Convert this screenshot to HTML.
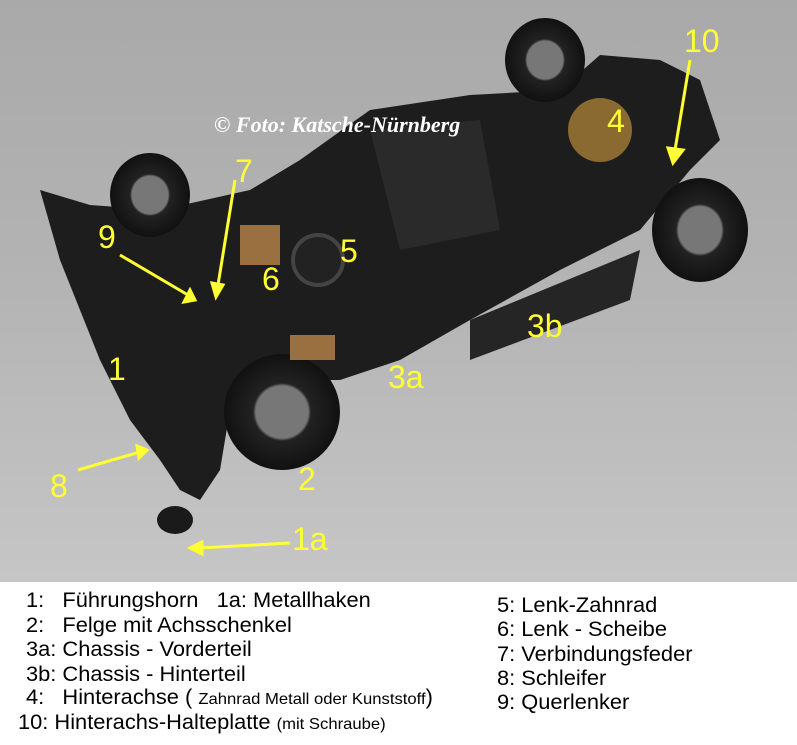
<!DOCTYPE html>
<html><head><meta charset="utf-8"><style>
body{margin:0;width:797px;height:745px;overflow:hidden;background:#fff;font-family:"Liberation Sans",sans-serif}
.ph{position:absolute;left:0;top:0;width:797px;height:582px;background:linear-gradient(180deg,#a9a9a9 0%,#b4b4b4 50%,#c6c6c6 100%)}
.t{position:absolute;font-size:21px;color:#000;white-space:nowrap;transform:scaleX(1.04);transform-origin:left}
.s{font-size:16px}
</style></head><body>
<div class="ph">
<svg width="797" height="582" viewBox="0 0 797 582">
<defs><radialGradient id="w" cx="50%" cy="50%" r="50%"><stop offset="0.45" stop-color="#777"/><stop offset="0.5" stop-color="#222"/><stop offset="1" stop-color="#111"/></radialGradient></defs>
<polygon points="40,190 90,205 160,210 250,190 300,160 370,110 470,95 560,90 600,55 660,60 700,80 720,140 690,170 640,230 560,270 470,320 400,360 340,380 260,380 230,410 220,470 200,500 180,490 160,460 130,420 100,360 60,260" fill="#1d1d1d"/>
<polygon points="370,130 480,120 500,230 400,250" fill="#2a2a2a"/>
<polygon points="470,320 640,250 630,300 470,360" fill="#252525"/>
<ellipse cx="150" cy="195" rx="40" ry="42" fill="url(#w)"/>
<ellipse cx="545" cy="60" rx="40" ry="42" fill="url(#w)"/>
<ellipse cx="700" cy="230" rx="48" ry="52" fill="url(#w)"/>
<ellipse cx="282" cy="412" rx="58" ry="58" fill="url(#w)"/>
<circle cx="600" cy="130" r="32" fill="#8a6a30"/>
<circle cx="318" cy="260" r="25" fill="#222" stroke="#444" stroke-width="4"/>
<rect x="240" y="225" width="40" height="40" fill="#9a7040"/>
<rect x="290" y="335" width="45" height="25" fill="#9a7040"/>
<ellipse cx="175" cy="520" rx="18" ry="14" fill="#1a1a1a"/>
<g stroke="#ffff33" stroke-width="3" fill="#ffff33">
<line x1="690" y1="60" x2="675" y2="150"/><polygon points="668,148 683,150 673,163"/>
<line x1="120" y1="255" x2="188" y2="295"/><polygon points="184,302 195,300 190,290"/>
<line x1="235" y1="180" x2="218" y2="285"/><polygon points="212,283 223,285 216,297"/>
<line x1="78" y1="470" x2="140" y2="452"/><polygon points="137,446 147,450 139,458"/>
<line x1="290" y1="543" x2="200" y2="548"/><polygon points="202,542 190,548 202,554"/>
</g>
<g fill="#ffff33" font-family="Liberation Sans,sans-serif" font-size="32">
<text x="684" y="52">10</text><text x="607" y="132">4</text><text x="235" y="182">7</text>
<text x="98" y="248">9</text><text x="340" y="262">5</text><text x="262" y="290">6</text>
<text x="527" y="337">3b</text><text x="388" y="388">3a</text><text x="108" y="380">1</text>
<text x="298" y="490">2</text><text x="50" y="497">8</text><text x="292" y="550">1a</text>
</g>
<text x="214" y="132" fill="#fff" font-family="Liberation Serif,serif" font-style="italic" font-weight="bold" font-size="22">© Foto: Katsche-Nürnberg</text>
</svg>
</div>
<div class="t" style="left:26px;top:589px">1:&nbsp;&nbsp; Führungshorn&nbsp;&nbsp; 1a: Metallhaken</div>
<div class="t" style="left:26px;top:614px">2:&nbsp;&nbsp; Felge mit Achsschenkel</div>
<div class="t" style="left:26px;top:638px">3a: Chassis - Vorderteil</div>
<div class="t" style="left:26px;top:663px">3b: Chassis - Hinterteil</div>
<div class="t" style="left:26px;top:686px">4:&nbsp;&nbsp; Hinterachse ( <span class="s">Zahnrad Metall oder Kunststoff</span>)</div>
<div class="t" style="left:18px;top:711px">10: Hinterachs-Halteplatte <span class="s">(mit Schraube)</span></div>
<div class="t" style="left:497px;top:594px">5: Lenk-Zahnrad</div>
<div class="t" style="left:497px;top:618px">6: Lenk - Scheibe</div>
<div class="t" style="left:497px;top:643px">7: Verbindungsfeder</div>
<div class="t" style="left:497px;top:667px">8: Schleifer</div>
<div class="t" style="left:497px;top:691px">9: Querlenker</div>
</body></html>
